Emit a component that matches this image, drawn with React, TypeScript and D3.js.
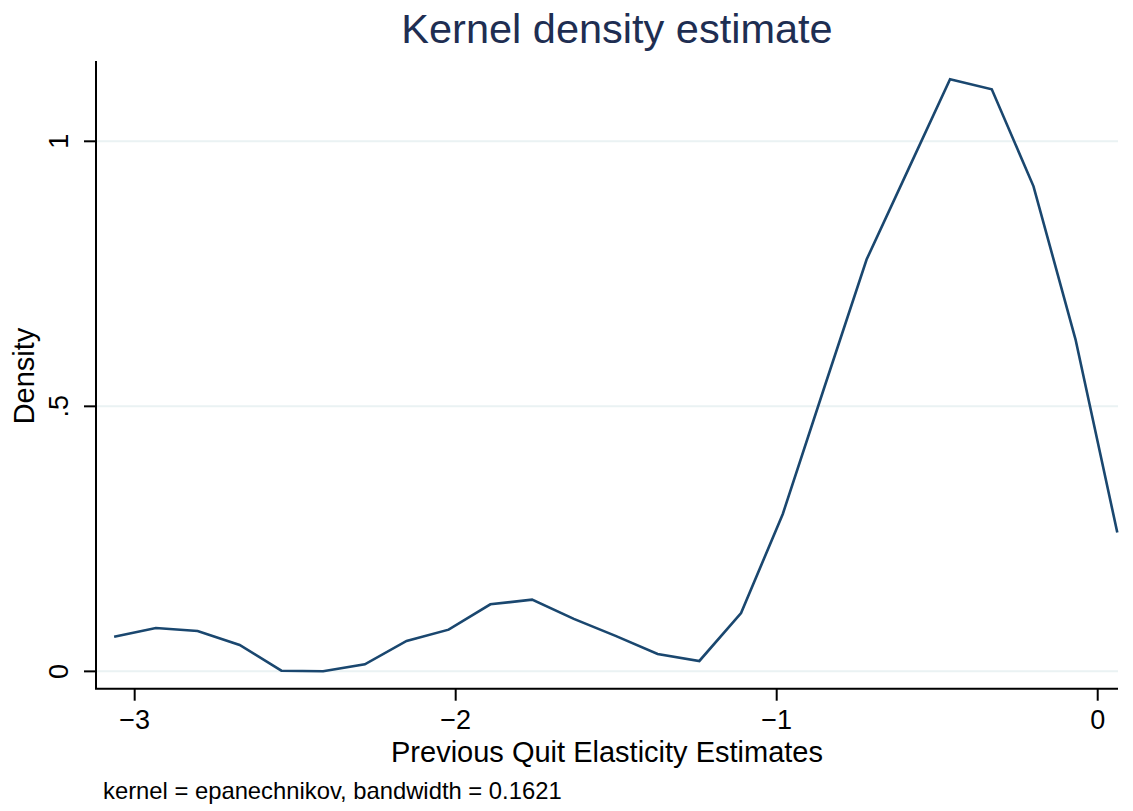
import { useMemo } from "react";
import * as d3 from "d3";

// evaluation points of the kernel density
const xs = [
  -3.064, -2.934, -2.804, -2.673, -2.543, -2.413, -2.283, -2.153, -2.022, -1.892,
  -1.762, -1.632, -1.502, -1.371, -1.241, -1.111, -0.981, -0.851, -0.72, -0.59,
  -0.46, -0.33, -0.2, -0.069, 0.061,
];
const density = [
  0.0655, 0.0819, 0.0763, 0.0498, 0.0013, 0.0003, 0.0132, 0.0574, 0.0787, 0.1265,
  0.1354, 0.099, 0.067, 0.0328, 0.0196, 0.11, 0.297, 0.537, 0.777, 0.947,
  1.117, 1.098, 0.915, 0.626, 0.262,
];
const xTicks = [-3, -2, -1, 0];
const yTicks = [0, 0.5, 1];
const yTickLabels = ["0", ".5", "1"];

const W = 1133;
const H = 811;
const FONT = "'Liberation Sans', Arial, Helvetica, sans-serif";
const LINE = "#1a476f";
const GRID = "#eaf2f3";

export default function App() {
  const x = useMemo(() => d3.scaleLinear().domain([-3.1205, 0.0632]).range([96, 1118]), []);
  const y = useMemo(() => d3.scaleLinear().domain([-0.0327, 1.1515]).range([688.7, 61]), []);

  const path = useMemo(() => {
    const line = d3.line<number>()
      .x((_, i) => x(xs[i]))
      .y(d => y(d));
    return line(density) ?? "";
  }, [x, y]);

  const [x0, x1] = x.range();
  const [y0, y1] = y.range();

  return (
    <svg
      width={W}
      height={H}
      style={{ position: "absolute", left: 0, top: 0, background: "#fff" }}
      fontFamily={FONT}
    >
      <rect width={W} height={H} fill="#fff" />

      {/* gridlines */}
      {yTicks.map(t => (
        <line key={`g${t}`} x1={x0} x2={x1} y1={y(t)} y2={y(t)} stroke={GRID} strokeWidth={2} />
      ))}

      {/* density curve */}
      <path d={path} fill="none" stroke={LINE} strokeWidth={2.6} strokeLinejoin="miter" />

      {/* axes */}
      <line x1={x0} x2={x0} y1={y1} y2={y0} stroke="#000" strokeWidth={2} />
      <line x1={x0 - 1} x2={x1} y1={y0} y2={y0} stroke="#000" strokeWidth={2} />

      {yTicks.map((t, i) => (
        <g key={`y${t}`} transform={`translate(0,${y(t)})`}>
          <line x1={x0 - 12} x2={x0} stroke="#000" strokeWidth={2} />
          <text
            transform="translate(68,0) rotate(-90)"
            textAnchor="middle"
            fontSize={27}
            fill="#000"
          >
            {yTickLabels[i]}
          </text>
        </g>
      ))}

      {xTicks.map(t => (
        <g key={`x${t}`} transform={`translate(${x(t)},0)`}>
          <line y1={y0} y2={y0 + 12} stroke="#000" strokeWidth={2} />
          <text y={729} textAnchor="middle" fontSize={27} fill="#000">
            {t < 0 ? `\u2212${Math.abs(t)}` : `${t}`}
          </text>
        </g>
      ))}

      {/* titles */}
      <text x={617} y={43} textAnchor="middle" fontSize={41.5} fill="#1e2e52">
        Kernel density estimate
      </text>
      <text x={607} y={762} textAnchor="middle" fontSize={29} fill="#000">
        Previous Quit Elasticity Estimates
      </text>
      <text transform="translate(34,376) rotate(-90)" textAnchor="middle" fontSize={29} fill="#000">
        Density
      </text>
      <text x={103} y={799} fontSize={23.8} fill="#000">
        kernel = epanechnikov, bandwidth = 0.1621
      </text>
    </svg>
  );
}
